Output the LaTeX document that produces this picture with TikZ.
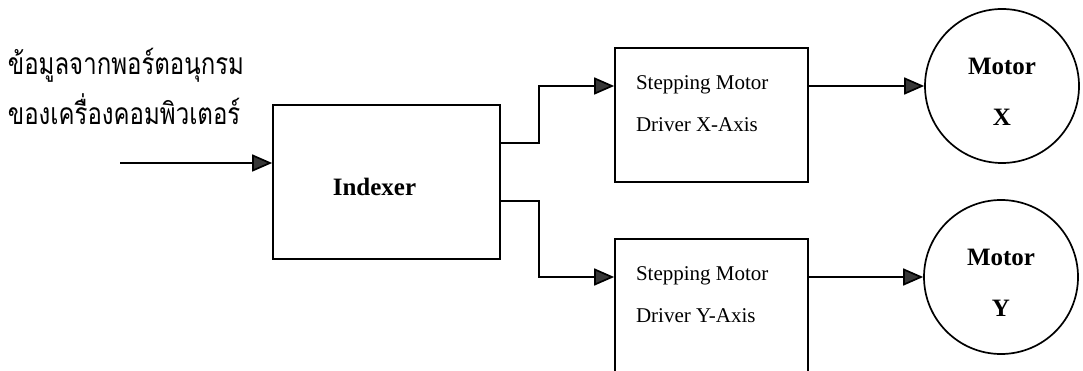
\documentclass[tikz,border=0pt]{standalone}
\usepackage{fontspec}
\usepackage{graphicx}
\setmainfont{Liberation Serif}
\newfontfamily\thaifont[Script=Thai]{Loma}
\usetikzlibrary{arrows.meta,calc,positioning}
\definecolor{tipgray}{RGB}{55,55,55}
\begin{document}
\begin{tikzpicture}[x=1pt,y=-1pt,line width=1.7pt,
	flow/.style={-{Triangle[length=20pt,width=17pt,fill=tipgray]}},
	block/.style={draw,rectangle,inner sep=0pt},
	drvbox/.style={block,minimum width=193pt,
		label={[anchor=north west,align=left,inner sep=0pt,xshift=21pt,yshift=-28pt,
		font=\fontsize{21}{42}\selectfont]north west:#1}},
	motor/.style={draw,circle,minimum size=154pt,inner sep=0pt,
		label={[align=center,inner sep=0pt,yshift=-6pt,
		font=\bfseries\fontsize{25}{51}\selectfont]center:#1}}]
	\useasboundingbox (0,0) rectangle (1083,371);
	% input text
	\node[anchor=north west,align=left,inner sep=0pt,font=\thaifont\fontsize{24}{50}\selectfont] (src) at (7,47)
		{\scalebox{1}[1.25]{ข้อมูลจากพอร์ตอนุกรม}\\\scalebox{1}[1.25]{ของเครื่องคอมพิวเตอร์}};
	% blocks
	\node[block,minimum width=227pt,minimum height=154pt,
		label={[xshift=-12pt,yshift=-5pt,font=\bfseries\fontsize{25}{30}\selectfont]center:Indexer}] (idx) at (386.5,182) {};
	\node[drvbox={Stepping Motor\\Driver X-Axis},minimum height=134pt] (drvx) at (711.5,115) {};
	\node[drvbox={Stepping Motor\\Driver Y-Axis},minimum height=150pt] (drvy) at (711.5,314) {};
	\node[motor={Motor\\X}] (motx) at (1002,86) {};
	\node[motor={Motor\\Y}] (moty) at (1001,277) {};
	% connectors
	\coordinate (in) at (120,163);
	\draw[flow] (in) -- (in -| idx.west);
	\draw[flow] ([yshift=39pt]idx.east) -- ++(38,0) |- (motx -| drvx.west);
	\draw[flow] ([yshift=-19pt]idx.east) -- ++(38,0) |- (moty -| drvy.west);
	\draw[flow] (motx -| drvx.east) -- (motx);
	\draw[flow] (moty -| drvy.east) -- (moty);
\end{tikzpicture}
\end{document}
